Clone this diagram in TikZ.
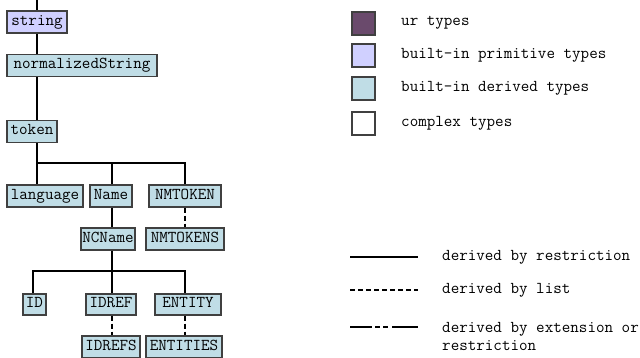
\documentclass[tikz,border=0pt]{standalone}
\begin{document}
\begin{tikzpicture}[x=1pt,y=-1pt,
  every node/.style={font=\fontsize{16.6}{18}\ttfamily, text=black},
  typebox/.style={draw=black!75, line width=1.2pt, inner sep=0pt,
    minimum height=22, text height=9.5, text depth=3},
  prim/.style={typebox, fill=primcol},
  deriv/.style={typebox, fill=derivcol},
  restr/.style={line width=2pt, line join=miter},
  listd/.style={line width=2pt, dash pattern=on 5pt off 3pt},
  extd/.style={line width=2pt, dash pattern=on 22pt off 3pt on 5pt off 3pt on 5pt off 4pt on 26pt},
  legtext/.style={anchor=west, inner sep=0pt, align=left}]
\definecolor{primcol}{HTML}{D0D0FF}
\definecolor{derivcol}{HTML}{C0DDE6}
\definecolor{urcol}{HTML}{6A4A6C}
\useasboundingbox[fill=white] (0,0) rectangle (640,358);

% type hierarchy
\node[prim,  minimum width=60]  (string)           at (37,22)    {string};
\node[deriv, minimum width=150] (normalizedString) at (82,65.5)  {normalizedString};
\node[deriv, minimum width=50]  (token)            at (32,131.5) {token};
\node[deriv, minimum width=76]  (language)         at (45,196)   {language};
\node[deriv, minimum width=42]  (Name)             at (111,196)  {Name};
\node[deriv, minimum width=72]  (NMTOKEN)          at (185,196)  {NMTOKEN};
\node[deriv, minimum width=54]  (NCName)           at (108,239)  {NCName};
\node[deriv, minimum width=78]  (NMTOKENS)         at (185,239)  {NMTOKENS};
\node[deriv, minimum width=23, minimum height=21] (ID) at (34.5,304.5) {ID};
\node[deriv, minimum width=50, minimum height=21] (IDREF)  at (111,304.5) {IDREF};
\node[deriv, minimum width=66, minimum height=21] (ENTITY) at (188,304.5) {ENTITY};
\node[deriv, minimum width=58]  (IDREFS)           at (111,347)  {IDREFS};
\node[deriv, minimum width=76]  (ENTITIES)         at (184,347)  {ENTITIES};

% connector columns and bus lines
\coordinate (c0) at (33,0);
\coordinate (c1) at (37,0);
\coordinate (c2) at (112,0);
\coordinate (c3) at (185,0);
\coordinate (b1) at (37,163);
\coordinate (b2) at (112,271);

\draw[restr] (c1) -- (c1 |- string.north);
\draw[restr] (string.south -| c1) -- (normalizedString.north -| c1);
\draw[restr] (normalizedString.south -| c1) -- (token.north -| c1);
\draw[restr] (token.south -| c1) -- (language.north -| c1);
\draw[restr] (b1) -| (NMTOKEN.north -| c3);
\draw[restr] (b1 -| c2) -- (Name.north -| c2);
\draw[listd] (NMTOKEN.south -| c3) -- (NMTOKENS.north -| c3);
\draw[restr] (Name.south -| c2) -- (NCName.north -| c2);
\draw[restr] (NCName.south -| c2) -- (IDREF.north -| c2);
\draw[restr] (ID.north -| c0) |- (b2 -| c3) -- (ENTITY.north -| c3);
\draw[listd] (IDREF.south -| c2) -- (IDREFS.north -| c2);
\draw[listd] (ENTITY.south -| c3) -- (ENTITIES.north -| c3);

% legend: type colours
\node[typebox, fill=urcol,    minimum width=23, minimum height=23] (kur)   at (363.5,23.5) {};
\node[typebox, fill=primcol,  minimum width=23, minimum height=23] (kprim) at (363.5,55.5) {};
\node[typebox, fill=derivcol, minimum width=23, minimum height=23] (kder)  at (363.5,88.5) {};
\node[typebox, fill=white,    minimum width=23, minimum height=23] (kcpx)  at (363.5,123.5) {};
\node[legtext] (tur)   at (401,23)  {ur types};
\node[legtext] (tprim) at (401,55)  {built-in primitive types};
\node[legtext] (tder)  at (401,88)  {built-in derived types};
\node[legtext] (tcpx)  at (401,123) {complex types};

% legend: connector styles
\coordinate (r1) at (350,257); \coordinate (r2) at (418,257);
\coordinate (l1) at (350,290); \coordinate (l2) at (418,290);
\coordinate (e1) at (350,327); \coordinate (e2) at (418,327);
\draw[restr] (r1) -- (r2);
\draw[listd] (l1) -- (l2);
\draw[extd]  (e1) -- (e2);
\node[legtext] (trestr) at (442,257) {derived by restriction};
\node[legtext] (tlist)  at (442,290) {derived by list};
\node[legtext] (text)   at (442,336) {derived by extension or\\restriction};
\end{tikzpicture}
\end{document}
